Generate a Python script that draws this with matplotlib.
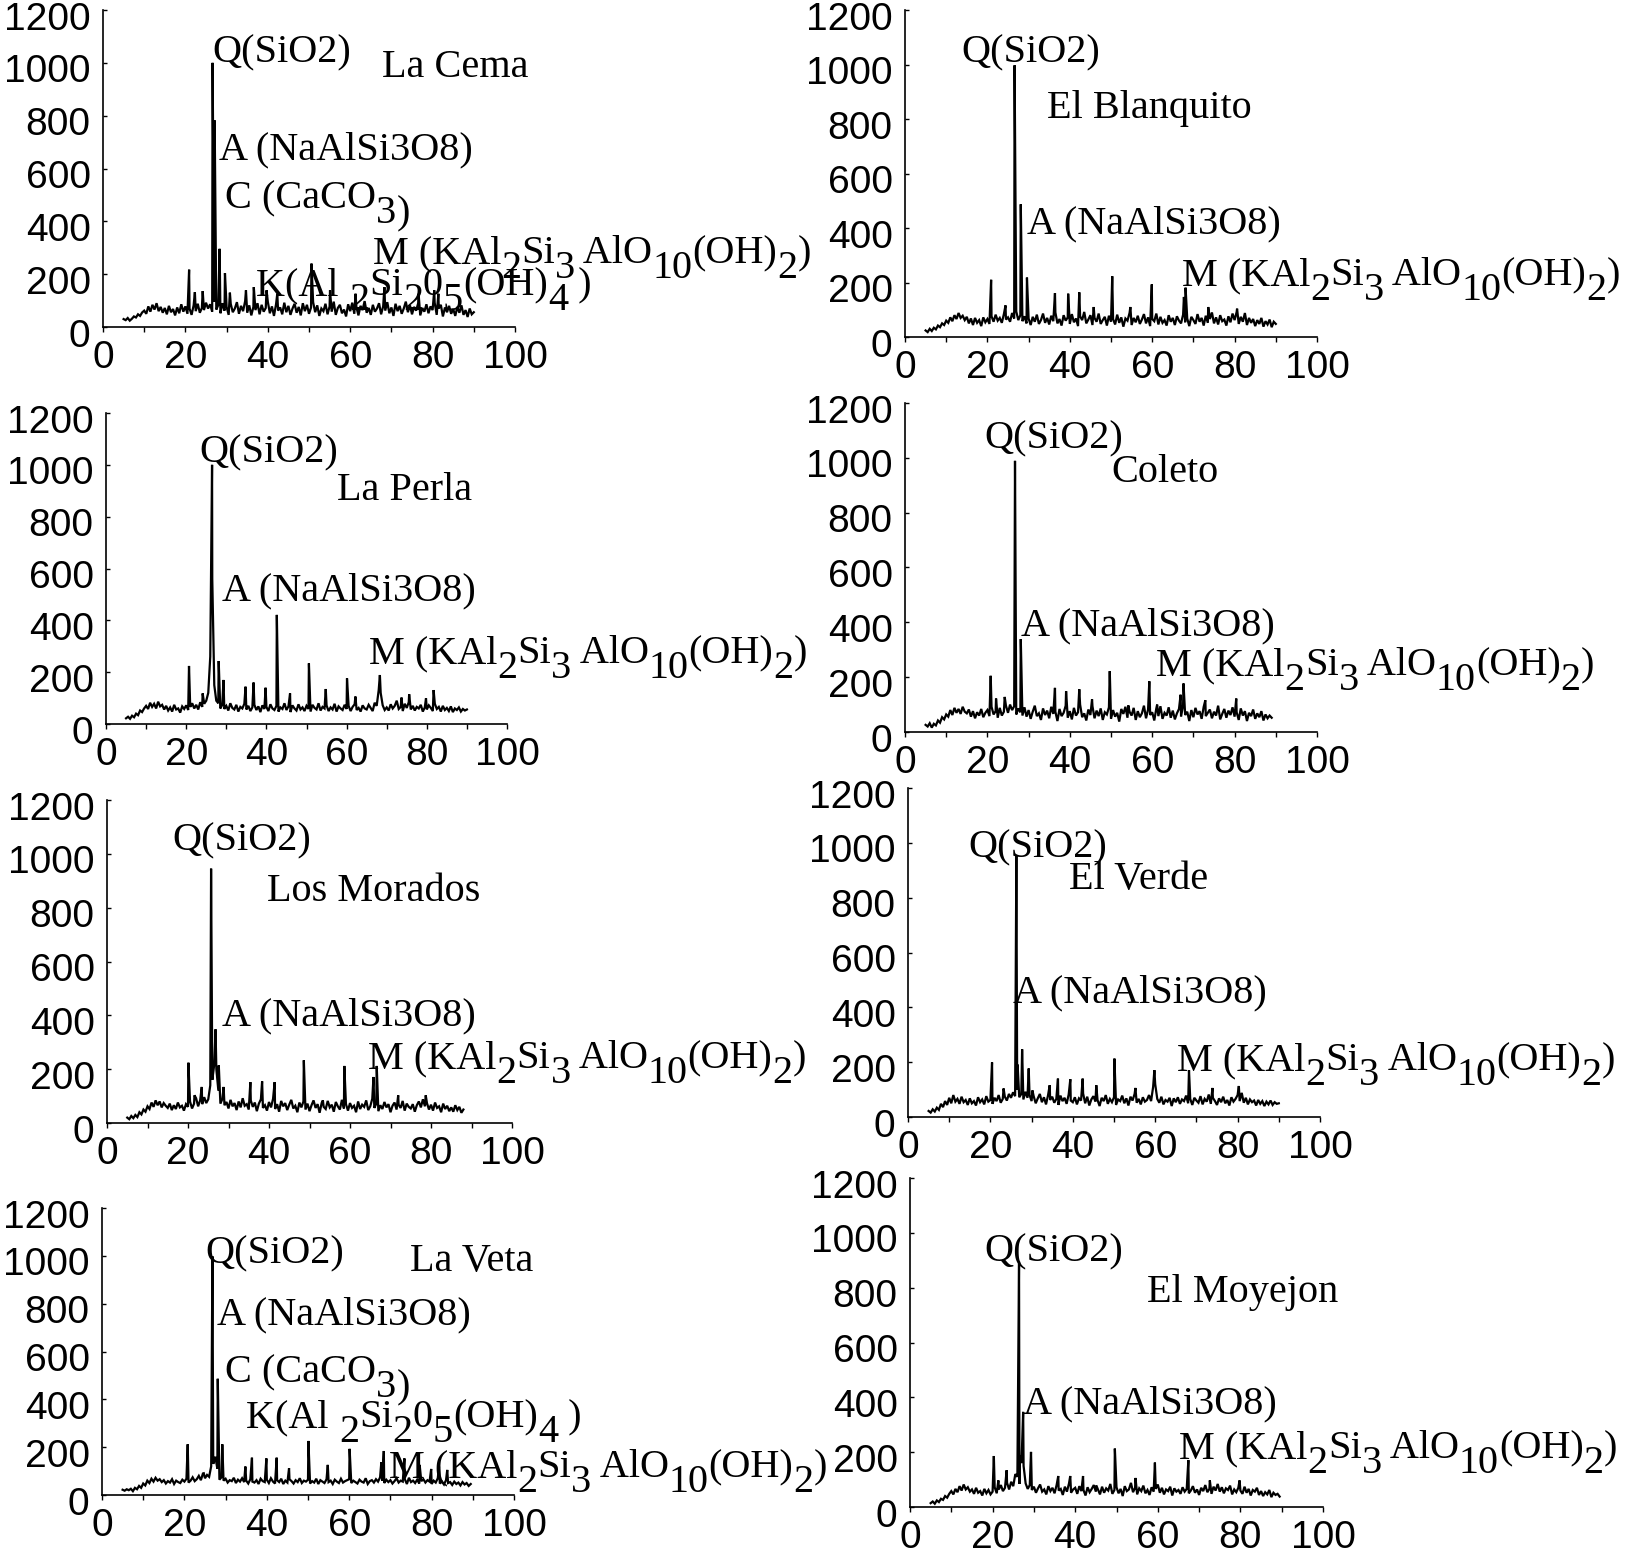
import numpy as np
import matplotlib.pyplot as plt
import matplotlib.transforms as mtransforms

plt.rcParams['font.family'] = ['Liberation Sans', 'DejaVu Sans']

# 2-theta scan: start angle and step (deg)
scan_start = 5.0
scan_step = 0.5

# ---- La Cema ----
bg_cema = [30, 26, 34, 24, 31, 40, 36, 48, 42, 55,
           62, 50, 78, 58, 84, 66, 90, 60, 76, 54,
           72, 48, 80, 56, 68, 44, 74, 52, 86, 58,
           78, 50, 70, 46, 82, 60, 88, 54, 72, 64,
           92, 70, 86, 58, 96, 66, 84, 52, 90, 62,
           76, 46, 88, 56, 70, 94, 50, 80, 60, 98,
           54, 82, 44, 76, 64, 90, 48, 84, 58, 72,
           96, 52, 78, 42, 86, 62, 74, 48, 92, 56,
           80, 46, 70, 88, 54, 76, 44, 90, 60, 84,
           50, 74, 94, 56, 82, 42, 70, 60, 88, 48,
           78, 58, 96, 46, 72, 84, 52, 66, 40, 86,
           60, 92, 50, 76, 44, 80, 64, 98, 54, 72,
           46, 84, 58, 70, 90, 48, 78, 62, 94, 52,
           74, 42, 88, 60, 80, 50, 70, 96, 56, 82,
           48, 76, 62, 90, 44, 72, 58, 86, 52, 78,
           64, 92, 46, 70, 84, 40, 74, 56, 80, 50,
           68, 42, 76, 54, 82, 46, 64, 38, 70, 48,
           56]
pk_pos_cema = [20.9, 22.3, 24.2, 26.6, 27.1, 28.3, 29.6, 30.8, 34.7, 36.6,
               39.7, 42.3, 50.6, 55.1, 61.3, 68.3, 76.6, 80.4, 81.4]
pk_h_cema = [217, 132, 136, 1000, 782, 296, 204, 130, 139, 151,
             139, 126, 240, 139, 126, 151, 126, 139, 126]

# ---- El Blanquito ----
bg_blanquito = [24, 18, 30, 22, 34, 28, 42, 36, 50, 44,
                60, 52, 72, 58, 80, 66, 88, 70, 78, 62,
                74, 50, 68, 44, 70, 52, 62, 40, 72, 54,
                66, 48, 76, 56, 82, 60, 70, 52, 84, 64,
                72, 56, 88, 68, 94, 62, 80, 58, 76, 50,
                68, 44, 74, 56, 82, 48, 62, 86, 52, 70,
                46, 78, 58, 90, 50, 66, 42, 80, 60, 72,
                48, 84, 54, 68, 40, 76, 62, 92, 50, 64,
                80, 44, 70, 56, 86, 48, 62, 74, 42, 78,
                56, 66, 46, 82, 52, 72, 38, 68, 60, 88,
                44, 70, 54, 78, 48, 64, 84, 50, 72, 40,
                66, 58, 86, 46, 74, 52, 62, 42, 80, 56,
                70, 44, 76, 60, 50, 82, 54, 68, 40, 74,
                62, 48, 84, 56, 70, 42, 78, 52, 66, 90,
                50, 72, 46, 80, 58, 64, 42, 76, 54, 86,
                62, 92, 48, 74, 56, 88, 44, 70, 52, 66,
                40, 62, 48, 70, 38, 58, 46, 64, 36, 56,
                48]
pk_pos_blanquito = [20.9, 24.4, 26.6, 28.1, 29.6, 36.4, 39.6, 42.3, 45.8, 50.3,
                    54.7, 59.9, 67.7, 68.1, 73.6, 80.6]
pk_h_blanquito = [210, 116, 997, 487, 218, 161, 159, 164, 110, 223,
                  110, 193, 147, 181, 110, 104]

# ---- La Perla ----
bg_perla = [22, 28, 20, 32, 26, 40, 34, 52, 46, 60,
            70, 58, 82, 66, 78, 60, 86, 68, 74, 56,
            70, 52, 64, 48, 74, 56, 60, 44, 68, 58,
            72, 54, 66, 80, 60, 74, 56, 84, 66, 78,
            90, 120, 260, 560, 150, 90, 80, 60, 74, 58,
            70, 52, 80, 62, 56, 74, 48, 66, 60, 78,
            56, 70, 50, 64, 74, 54, 68, 46, 72, 58,
            66, 50, 76, 60, 54, 70, 48, 64, 58, 80,
            54, 68, 46, 72, 60, 52, 76, 56, 64, 50,
            70, 58, 48, 74, 62, 56, 80, 52, 66, 60,
            72, 50, 64, 56, 78, 48, 68, 60, 54, 74,
            58, 70, 50, 66, 76, 54, 62, 48, 72, 60,
            56, 74, 62, 50, 82, 70, 130, 120, 72, 54,
            64, 52, 76, 60, 70, 90, 58, 66, 50, 78,
            62, 84, 56, 70, 52, 66, 60, 74, 48, 64,
            56, 72, 62, 50, 78, 58, 66, 48, 70, 54,
            62, 50, 68, 46, 60, 54, 64, 48, 58, 52,
            56]
pk_pos_perla = [20.7, 24.1, 26.45, 28.1, 29.3, 34.8, 36.8, 39.8, 42.6, 45.9,
                50.6, 54.8, 60.1, 62.2, 68.3, 73.7, 75.6, 79.8, 81.7]
pk_h_perla = [224, 118, 1000, 243, 170, 144, 160, 140, 421, 118,
              234, 135, 176, 106, 189, 102, 115, 99, 131]

# ---- Coleto ----
bg_coleto = [26, 20, 32, 16, 30, 24, 42, 34, 54, 46,
             64, 56, 80, 62, 88, 70, 84, 66, 92, 74,
             68, 82, 56, 76, 50, 72, 60, 84, 54, 70,
             80, 58, 92, 64, 76, 52, 88, 60, 74, 96,
             70, 100, 80, 94, 64, 86, 72, 60, 90, 56,
             80, 48, 74, 96, 58, 68, 44, 86, 62, 78,
             50, 92, 66, 74, 40, 84, 58, 70, 96, 52,
             76, 46, 88, 60, 72, 100, 54, 68, 42, 82,
             62, 94, 50, 78, 58, 86, 44, 72, 64, 90,
             48, 80, 56, 70, 38, 84, 66, 92, 52, 74,
             60, 88, 44, 76, 54, 68, 96, 50, 82, 62,
             72, 42, 86, 58, 94, 48, 70, 60, 90, 52,
             78, 46, 68, 84, 56, 98, 62, 74, 40, 80,
             54, 88, 64, 76, 48, 92, 58, 70, 82, 50,
             74, 60, 96, 46, 66, 84, 52, 78, 62, 90,
             56, 72, 44, 86, 60, 76, 40, 70, 58, 82,
             48, 68, 54, 76, 42, 64, 50, 60,
             52]
pk_pos_coleto = [20.8, 22.1, 24.2, 26.7, 28.1, 36.4, 39.1, 42.3, 45.4, 49.7,
                 54.2, 59.3, 61.2, 66.9, 67.6, 72.9, 80.4]
pk_h_coleto = [205, 122, 128, 989, 339, 161, 149, 156, 119, 222,
               97, 185, 100, 136, 177, 116, 122]

# ---- Los Morados ----
bg_morados = [20, 14, 26, 18, 30, 22, 40, 32, 50, 42,
              62, 52, 76, 60, 84, 66, 80, 58, 74, 64,
              56, 72, 48, 66, 52, 76, 58, 64, 46, 70,
              60, 80, 54, 72, 92, 62, 84, 70, 96, 74,
              88, 140, 160, 220, 200, 120, 72, 90, 66, 78,
              54, 86, 62, 74, 48, 80, 58, 92, 64, 70,
              50, 84, 60, 76, 44, 72, 88, 56, 66, 46,
              78, 58, 90, 52, 70, 42, 82, 62, 74, 48,
              68, 86, 54, 64, 40, 76, 58, 80, 50, 72,
              44, 66, 84, 56, 70, 38, 74, 60, 52, 82,
              58, 68, 42, 78, 62, 50, 86, 54, 70, 46,
              74, 56, 64, 40, 80, 52, 68, 60, 84, 48,
              62, 90, 56, 72, 44, 66, 52, 78, 58, 70,
              40, 64, 76, 50, 68, 56, 82, 46, 72, 60,
              54, 70, 42, 66, 80, 58, 88, 62, 74, 50,
              68, 46, 76, 56, 62, 40, 72, 52, 64, 44,
              58, 42, 66, 48, 60, 38,
              50]
pk_pos_morados = [20.1, 21.6, 23.4, 25.7, 26.8, 27.6, 28.8, 35.4, 38.3, 41.4,
                  48.6, 53.3, 58.6, 65.8, 66.6, 71.9, 78.7]
pk_h_morados = [224, 103, 134, 945, 348, 214, 134, 152, 155, 152,
                233, 84, 212, 171, 212, 103, 103]

# ---- El Verde ----
bg_verde = [22, 16, 28, 20, 34, 26, 48, 36, 58, 44,
            70, 50, 80, 56, 66, 48, 74, 54, 62, 44,
            68, 50, 58, 42, 72, 54, 64, 46, 76, 56,
            62, 48, 70, 58, 80, 52, 66, 74, 60, 84,
            70, 90, 76, 100, 72, 84, 64, 92, 70, 80,
            58, 76, 50, 68, 84, 54, 72, 46, 80, 62,
            74, 52, 66, 44, 78, 58, 70, 48, 82, 60,
            54, 72, 46, 68, 60, 86, 50, 74, 42, 64,
            76, 56, 62, 40, 70, 58, 80, 48, 66, 54,
            72, 44, 64, 58, 78, 50, 68, 42, 74, 60,
            84, 52, 66, 46, 72, 56, 62, 80, 58, 110,
            120, 66, 52, 74, 46, 62, 56, 70, 40, 68,
            54, 72, 48, 64, 58, 78, 50, 66, 44, 70,
            60, 52, 76, 46, 66, 56, 82, 48, 70, 58,
            44, 68, 54, 74, 50, 62, 42, 72, 56, 66,
            80, 58, 88, 52, 70, 46, 64, 54, 60, 42,
            62, 48, 58, 40, 56, 46, 60, 44, 54, 48,
            50]
pk_pos_verde = [20.4, 23.2, 26.3, 26.6, 27.7, 29.3, 30.2, 34.4, 36.4, 39.4,
                42.4, 45.7, 50.1, 55.2, 59.8, 68.2, 73.9, 80.3]
pk_h_verde = [199, 104, 954, 191, 247, 177, 97, 116, 140, 138,
              140, 116, 213, 106, 171, 171, 106, 113]

# ---- La Veta ----
bg_veta = [22, 18, 24, 20, 26, 16, 30, 24, 38, 30,
           48, 40, 60, 50, 68, 56, 72, 60, 66, 54,
           62, 48, 58, 52, 66, 46, 60, 54, 50, 64,
           56, 68, 52, 60, 74, 58, 66, 80, 62, 90,
           70, 84, 76, 120, 130, 160, 110, 64, 74, 60,
           68, 52, 62, 58, 72, 50, 64, 56, 70, 54,
           60, 48, 66, 56, 52, 62, 46, 68, 58, 54,
           64, 50, 70, 56, 48, 62, 54, 68, 46, 60,
           52, 66, 58, 48, 62, 54, 70, 50, 60, 56,
           64, 48, 58, 52, 68, 46, 62, 56, 50, 66,
           54, 60, 46, 64, 56, 50, 68, 52, 58, 62,
           66, 50, 60, 54, 48, 64, 56, 52, 70, 46,
           58, 62, 52, 66, 56, 74, 60, 50, 64, 54,
           62, 48, 58, 70, 52, 60, 56, 66, 46, 72,
           54, 60, 50, 64, 48, 58, 66, 52, 62, 56,
           46, 60, 52, 70, 48, 56, 44, 62, 50, 54,
           42, 56, 46, 52, 40, 54, 44, 50, 38, 46]
pk_pos_veta = [20.8, 24.7, 26.8, 28.1, 29.2, 34.8, 36.4, 39.9, 42.4, 45.4,
               50.1, 54.8, 60.1, 67.8, 68.4, 73.4, 77.1, 79.9, 81.8, 83.8]
pk_h_veta = [212, 91, 998, 486, 212, 119, 156, 153, 156, 112,
             226, 126, 193, 137, 184, 153, 126, 109, 119, 105]

# ---- El Moyejon ----
bg_moyejon = [14, 20, 12, 24, 18, 30, 26, 40, 34, 48,
              58, 46, 66, 54, 76, 60, 82, 64, 72, 56,
              64, 48, 70, 52, 58, 42, 66, 50, 62, 46,
              56, 72, 50, 64, 80, 58, 70, 88, 64, 92,
              76, 120, 110, 84, 160, 150, 86, 66, 80, 62,
              74, 52, 68, 82, 56, 64, 46, 76, 58, 70,
              50, 80, 60, 66, 44, 74, 56, 86, 52, 64,
              70, 48, 76, 58, 62, 42, 72, 54, 66, 80,
              56, 64, 46, 74, 52, 68, 60, 84, 48, 62,
              72, 50, 66, 40, 76, 58, 64, 88, 54, 70,
              46, 68, 58, 78, 50, 62, 44, 72, 56, 66,
              82, 52, 70, 46, 64, 58, 74, 42, 68, 56,
              62, 48, 72, 56, 66, 50, 60, 76, 52, 64,
              44, 70, 58, 80, 54, 66, 48, 74, 60, 84,
              56, 72, 50, 68, 62, 78, 46, 64, 54, 70,
              60, 48, 74, 52, 66, 42, 62, 56, 70, 44,
              58, 40, 54, 46, 62, 36, 52, 44, 48, 38]
pk_pos_moyejon = [20.3, 21.4, 23.4, 26.4, 26.6, 27.4, 29.3, 35.9, 38.8, 41.9,
                  45.1, 49.6, 54.6, 59.3, 67.4, 72.6, 79.8]
pk_h_moyejon = [186, 97, 134, 895, 189, 347, 201, 113, 113, 113,
                79, 213, 106, 162, 171, 97, 97]

site_names = ['La Cema', 'El Blanquito', 'La Perla', 'Coleto',
              'Los Morados', 'El Verde', 'La Veta', 'El Moyejon']
backgrounds = [bg_cema, bg_blanquito, bg_perla, bg_coleto,
               bg_morados, bg_verde, bg_veta, bg_moyejon]
peak_pos = [pk_pos_cema, pk_pos_blanquito, pk_pos_perla, pk_pos_coleto,
            pk_pos_morados, pk_pos_verde, pk_pos_veta, pk_pos_moyejon]
peak_h = [pk_h_cema, pk_h_blanquito, pk_h_perla, pk_h_coleto,
          pk_h_morados, pk_h_verde, pk_h_veta, pk_h_moyejon]

# mineral labels, as (text, lowered?) pieces
LBL_Q = [('Q(SiO2)', 0)]
LBL_A = [('A (NaAlSi3O8)', 0)]
LBL_C = [('C (CaCO', 0), ('3', 1), (')', 1)]
LBL_M = [('M (KAl', 0), ('2', 1), ('Si', 0), ('3', 1), (' AlO', 0),
         ('10', 1), ('(OH)', 0), ('2', 1), (')', 0)]
LBL_K = [('K(Al ', 0), ('2', 1), ('Si', 0), ('2', 1), ('0', 0), ('5', 1),
         ('(OH)', 0), ('4', 1), (' )', 0)]

# axes box in pixels: x at 0, x at 100, y at 0, y at 1200
boxes = [(103, 515, 327, 10), (905, 1317, 337, 10),
         (106, 507, 724, 413), (905, 1317, 732, 403),
         (107, 512, 1123, 800), (908, 1320, 1117, 788),
         (102, 514, 1495, 1208), (910, 1323, 1507, 1178)]

# label anchor points (data coords, left/baseline)
labels = [
    [(LBL_Q, 26.5, 1000), ('name', 67.7, 946), (LBL_A, 28.1, 636),
     (LBL_C, 29.6, 450), (LBL_M, 65.5, 242), (LBL_K, 37.2, 121)],
    [(LBL_Q, 13.6, 1009), ('name', 34.5, 804), (LBL_A, 29.7, 381), (LBL_M, 67.2, 191)],
    [(LBL_Q, 23.4, 1011), ('name', 57.6, 864), (LBL_A, 28.9, 478), (LBL_M, 65.6, 235)],
    [(LBL_Q, 19.2, 1036), ('name', 50.0, 912), (LBL_A, 28.2, 354), (LBL_M, 61.0, 208)],
    [(LBL_Q, 16.2, 1014), ('name', 39.4, 825), (LBL_A, 28.4, 364), (LBL_M, 64.5, 204)],
    [(LBL_Q, 14.7, 948), ('name', 39.0, 831), (LBL_A, 25.5, 419), (LBL_M, 65.3, 171)],
    [(LBL_Q, 25.2, 970), ('name', 74.8, 936), (LBL_A, 27.9, 715),
     (LBL_C, 29.9, 472), (LBL_K, 35.0, 284), (LBL_M, 69.7, 75)],
    [(LBL_Q, 17.9, 894), ('name', 57.4, 748), (LBL_A, 27.4, 343), (LBL_M, 65.2, 179)],
]

W, H = 1626, 1554
FS_TXT = 29
FS_TICK = 28
SUB_DROP = -0.37 * FS_TXT
serif = ['Liberation Serif', 'DejaVu Serif']


def chem_label(ax, x, y, parts):
    prev = None
    for txt, low in parts:
        dy = SUB_DROP if low else 0
        if prev is None:
            prev = ax.annotate(txt, xy=(x, y), xycoords='data',
                               xytext=(0, dy), textcoords='offset points',
                               ha='left', va='baseline', fontsize=FS_TXT,
                               family=serif, annotation_clip=False)
        else:
            prev = ax.annotate(txt, xy=(1, y), xycoords=(prev, 'data'),
                               xytext=(0, dy), textcoords='offset points',
                               ha='left', va='baseline', fontsize=FS_TXT,
                               family=serif, annotation_clip=False)


fig = plt.figure(figsize=(W / 100, H / 100), dpi=100)
ylab_shift = mtransforms.ScaledTranslation(0, -4 / 72, fig.dpi_scale_trans)

for i in range(8):
    x0, x1, y0, y1 = boxes[i]
    ax = fig.add_axes([x0 / W, 1 - y0 / H, (x1 - x0) / W, (y0 - y1) / H])

    bg = np.array(backgrounds[i], dtype=float)
    tth = scan_start + scan_step * np.arange(len(bg))
    xs = np.concatenate([tth, peak_pos[i]])
    ys = np.concatenate([bg, peak_h[i]])
    order = np.argsort(xs, kind='stable')
    ax.plot(xs[order], ys[order], color='black', lw=1.6, clip_on=False,
            solid_joinstyle='miter')

    ax.set_xlim(0, 100)
    ax.set_ylim(0, 1200)
    ax.set_xticks(np.arange(0, 101, 20))
    ax.set_xticks(np.arange(0, 101, 10), minor=True)
    ax.set_yticks(np.arange(0, 1201, 200))
    for s in ['top', 'right']:
        ax.spines[s].set_visible(False)
    for s in ['left', 'bottom']:
        ax.spines[s].set_linewidth(1.2)
    ax.tick_params(axis='x', which='both', direction='out', length=3.5,
                   width=1.0, labelsize=FS_TICK, pad=6)
    ax.tick_params(axis='y', direction='in', length=3, width=1.0,
                   labelsize=FS_TICK, pad=9)
    for t in ax.get_yticklabels():
        t.set_transform(t.get_transform() + ylab_shift)
    ax.patch.set_visible(False)

    for lbl, lx, ly in labels[i]:
        if lbl == 'name':
            ax.text(lx, ly, site_names[i], ha='left', va='baseline',
                    fontsize=FS_TXT, family=serif)
        else:
            chem_label(ax, lx, ly, lbl)

fig.savefig('out.png', dpi=100)
